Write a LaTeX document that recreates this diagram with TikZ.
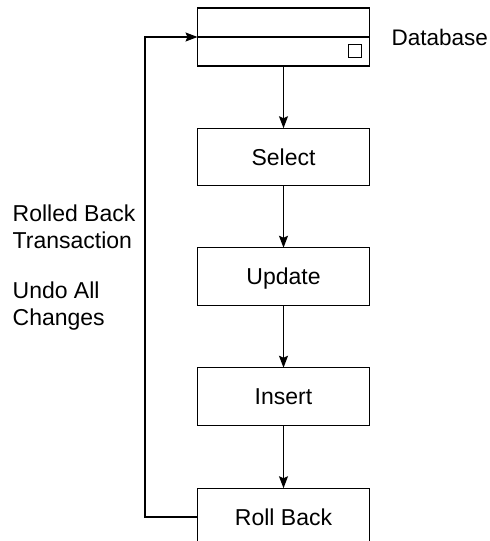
\documentclass[tikz,border=0pt]{standalone}
\usepackage{fontspec}
\setmainfont{Liberation Sans}
\usetikzlibrary{arrows.meta}
\begin{document}
\begin{tikzpicture}[x=1bp,y=-1bp,
  line width=1.3bp,
  every node/.style={font=\fontsize{23bp}{27bp}\selectfont},
  stepbox/.style={draw, minimum width=172bp, minimum height=57.5bp, inner sep=0pt, outer sep=0pt, text height=16.5bp, text depth=0pt},
  arr/.style={-{Stealth[length=12bp,width=9bp,inset=2bp]}},
  lbl/.style={inner sep=0pt, anchor=base west}]
\useasboundingbox (0,0) rectangle (490,541);
\clip (0,0) rectangle (490,541);
\node[stepbox, minimum height=58bp] (db) at (283.5,37) {};
\draw (db.west) -- (db.east);
\node[draw, line width=1bp, minimum size=13bp, inner sep=0pt] (sq) at (355,51.5) {};
\node[anchor=base west, inner sep=0pt, font=\fontsize{22.5bp}{27bp}\selectfont] (dbl) at (391,45.5) {Database};
\node[stepbox] (sel) at (283.5,157) {Select};
\node[stepbox] (upd) at (283.5,276.5) {Update};
\node[stepbox] (ins) at (283.5,396.5) {Insert};
\node[stepbox] (rb) at (283.5,517) {Roll Back};
\draw[arr] (db) -- (sel);
\draw[arr] (sel) -- (upd);
\draw[arr] (upd) -- (ins);
\draw[arr] (ins) -- (rb);
\coordinate (c1) at (145,517);
\coordinate (c2) at (145,37);
\draw[arr] (rb.west) -- (c1) -- (c2) -- (db.west);
\node[lbl] (t1) at (12,221) {Rolled Back};
\node[lbl] (t2) at (12,248) {Transaction};
\node[lbl] (t3) at (12,298) {Undo All};
\node[lbl] (t4) at (12,325) {Changes};
\end{tikzpicture}
\end{document}
